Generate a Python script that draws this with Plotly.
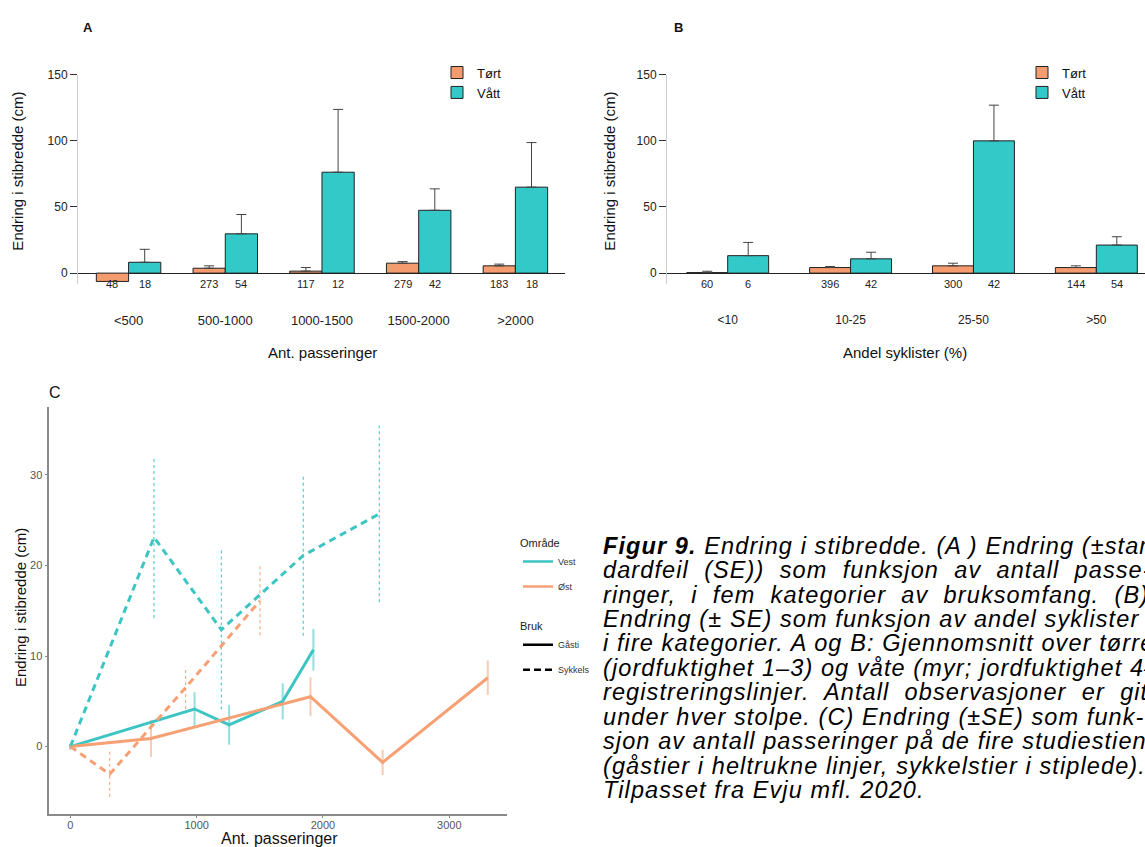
import plotly.graph_objects as go

W, H = 1145, 847

# ---------------- Panel A: change vs. number of passes ----------------
passering_kat = ["<500", "500-1000", "1000-1500", "1500-2000", ">2000"]
a_tort = [-6.3, 3.7, 1.5, 7.5, 5.5]
a_tort_se = [None, 1.8, 2.7, 1.2, 1.3]
a_vatt = [8.2, 29.7, 76.3, 47.5, 65.0]
a_vatt_se = [9.8, 14.6, 47.5, 16.2, 33.7]
a_n_tort = [48, 273, 117, 279, 183]
a_n_vatt = [18, 54, 12, 42, 18]

# ---------------- Panel B: change vs. share of cyclists ----------------
syklist_kat = ["<10", "10-25", "25-50", ">50"]
b_tort = [0.4, 4.2, 5.5, 4.2]
b_tort_se = [1.0, 0.8, 2.0, 1.3]
b_vatt = [13.2, 10.8, 100.0, 21.2]
b_vatt_se = [10.0, 5.0, 27.0, 6.3]
b_n_tort = [60, 396, 300, 144]
b_n_vatt = [6, 42, 42, 54]

# ---------------- Panel C: change vs. passes per study trail ----------------
vest_gasti_x = [0, 983, 1257, 1681, 1924]
vest_gasti_y = [0, 4.15, 2.4, 5.0, 10.7]
vest_gasti_se = [0.3, 1.85, 2.2, 2.0, 2.3]

ost_gasti_x = [0, 638, 1901, 2472, 3305]
ost_gasti_y = [0, 0.9, 5.5, -1.75, 7.6]
ost_gasti_se = [0.3, 2.05, 2.15, 1.4, 1.9]

vest_sykkel_x = [0, 662, 1195, 1844, 2446]
vest_sykkel_y = [0, 23.1, 12.9, 21.1, 25.7]
vest_sykkel_se = [0.3, 8.9, 8.8, 8.85, 9.75]

ost_sykkel_x = [0, 311, 912, 1501]
ost_sykkel_y = [0, -3.05, 6.5, 16.1]
ost_sykkel_se = [0.3, 2.5, 2.35, 3.8]

NB = "\u00a0"
caption_lines = [
    "<b>Figur 9.</b> Endring i stibredde. (A ) Endring (±standard-",
    ("dardfeil (SE)) som funksjon av antall passe-").replace(" ", NB + " "),
    ("ringer, i fem kategorier av bruksomfang. (B)").replace(" ", NB + " "),
    "Endring (± SE) som funksjon av andel syklister",
    "i fire kategorier. A og B: Gjennomsnitt over tørre",
    "(jordfuktighet 1–3) og våte (myr; jordfuktighet 4–5)",
    ("registreringslinjer. Antall observasjoner er gitt").replace(" ", NB + " "),
    "under hver stolpe. (C) Endring (±SE) som funk-",
    "sjon av antall passeringer på de fire studiestiene",
    "(gåstier i heltrukne linjer, sykkelstier i stiplede).",
    "Tilpasset fra Evju mfl. 2020.",
]

ORANGE = "#F59B70"
TEAL = "#33C9C9"
C_TEAL = "#3CC5C2"
C_ORANGE = "#F6A074"
FONT = "Liberation Sans, Arial, sans-serif"


def px_x(p):
    return p / W


def px_y(p):
    return 1 - p / H


fig = go.Figure()

# ---- bars A ----
ia = list(range(len(passering_kat)))
fig.add_trace(go.Bar(
    x=ia, y=a_tort, name="Tørt", marker=dict(color=ORANGE, line=dict(color="#222", width=1)),
    error_y=dict(type="data", array=a_tort_se, arrayminus=[0] * len(ia), symmetric=False,
                 color="#444", thickness=1, width=5),
    xaxis="x", yaxis="y", legend="legend",
))
fig.add_trace(go.Bar(
    x=ia, y=a_vatt, name="Vått", marker=dict(color=TEAL, line=dict(color="#222", width=1)),
    error_y=dict(type="data", array=a_vatt_se, arrayminus=[0] * len(ia), symmetric=False,
                 color="#444", thickness=1, width=5),
    xaxis="x", yaxis="y", legend="legend",
))

# ---- bars B ----
ib = list(range(len(syklist_kat)))
fig.add_trace(go.Bar(
    x=ib, y=b_tort, name="Tørt", marker=dict(color=ORANGE, line=dict(color="#222", width=1)),
    error_y=dict(type="data", array=b_tort_se, arrayminus=[0] * len(ib), symmetric=False,
                 color="#444", thickness=1, width=5),
    xaxis="x2", yaxis="y2", legend="legend2",
))
fig.add_trace(go.Bar(
    x=ib, y=b_vatt, name="Vått", marker=dict(color=TEAL, line=dict(color="#222", width=1)),
    error_y=dict(type="data", array=b_vatt_se, arrayminus=[0] * len(ib), symmetric=False,
                 color="#444", thickness=1, width=5),
    xaxis="x2", yaxis="y2", legend="legend2",
))


# ---- panel C: error bars then lines ----
def err_segments(xs, ys, ses):
    ex, ey = [], []
    for x, y, s in zip(xs, ys, ses):
        ex += [x, x, None]
        ey += [y - s, y + s, None]
    return ex, ey


series_c = [
    (vest_gasti_x, vest_gasti_y, vest_gasti_se, C_TEAL, "solid"),
    (ost_gasti_x, ost_gasti_y, ost_gasti_se, C_ORANGE, "solid"),
    (vest_sykkel_x, vest_sykkel_y, vest_sykkel_se, C_TEAL, "dash"),
    (ost_sykkel_x, ost_sykkel_y, ost_sykkel_se, C_ORANGE, "dash"),
]
for xs, ys, ses, col, dash in series_c:
    ex, ey = err_segments(xs, ys, ses)
    if dash == "solid":
        eline = dict(color=col, width=2)
        op = 0.55
    else:
        eline = dict(color=col, width=1.2, dash="dot")
        op = 0.85
    fig.add_trace(go.Scatter(x=ex, y=ey, mode="lines", line=eline, opacity=op,
                             showlegend=False, xaxis="x3", yaxis="y3", hoverinfo="skip"))
for xs, ys, ses, col, dash in series_c:
    fig.add_trace(go.Scatter(x=xs, y=ys, mode="lines",
                             line=dict(color=col, width=3, dash="solid" if dash == "solid" else "7px,5px"),
                             showlegend=False, xaxis="x3", yaxis="y3"))

# legend entries for panel C
fig.add_trace(go.Scatter(x=[None], y=[None], mode="lines", name="Vest", line=dict(color=C_TEAL, width=2.5),
                         xaxis="x3", yaxis="y3", legend="legend3", legendgroup="vest"))
fig.add_trace(go.Scatter(x=[None], y=[None], mode="lines", name="Øst", line=dict(color=C_ORANGE, width=2.5),
                         xaxis="x3", yaxis="y3", legend="legend3", legendgroup="ost"))
fig.add_trace(go.Scatter(x=[None], y=[None], mode="lines", name="Gåsti", line=dict(color="#000", width=2.5),
                         xaxis="x3", yaxis="y3", legend="legend4", legendgroup="gasti"))
fig.add_trace(go.Scatter(x=[None], y=[None], mode="lines", name="Sykkels",
                         line=dict(color="#000", width=2.5, dash="7px,4px"),
                         xaxis="x3", yaxis="y3", legend="legend4", legendgroup="sykkel"))

annotations = []

# n-labels under each bar
for i, (nt, nv) in enumerate(zip(a_n_tort, a_n_vatt)):
    for off, n in ((-1 / 6, nt), (1 / 6, nv)):
        annotations.append(dict(x=i + off, y=0, xref="x", yref="y", text=str(n), showarrow=False,
                                xanchor="center", yanchor="top", yshift=-3,
                                font=dict(size=11, color="#222")))
for i, (nt, nv) in enumerate(zip(b_n_tort, b_n_vatt)):
    for off, n in ((-1 / 6, nt), (1 / 6, nv)):
        annotations.append(dict(x=i + off, y=0, xref="x2", yref="y2", text=str(n), showarrow=False,
                                xanchor="center", yanchor="top", yshift=-3,
                                font=dict(size=11, color="#222")))


def label(xp, yp, text, size, angle=0, color="#111"):
    return dict(x=px_x(xp), y=px_y(yp), xref="paper", yref="paper", text=text, showarrow=False,
                xanchor="center", yanchor="middle", textangle=angle,
                font=dict(size=size, color=color))


# axis titles and panel letters
annotations += [
    label(88, 21, "<b>A</b>", 13),
    label(678, 21, "<b>B</b>", 13),
    label(55, 389, "C", 16),
    label(322, 348, "Ant. passeringer", 15),
    label(905, 348, "Andel syklister (%)", 15),
    label(18, 166, "Endring i stibredde (cm)", 15, -90),
    label(610, 166, "Endring i stibredde (cm)", 15, -90),
    label(279, 838, "Ant. passeringer", 16),
    label(21, 606, "Endring i stibredde (cm)", 15, -90),
]

# figure caption (italic, slightly widened tracking)
cap_y0, cap_dy = 543, 24.7
for k, line in enumerate(caption_lines):
    annotations.append(dict(x=px_x(601), y=px_y(cap_y0 + k * cap_dy), xref="paper", yref="paper",
                            xanchor="left", yanchor="middle",
                            text='<span style="letter-spacing:1.1px"><i>' + line + "</i></span>",
                            showarrow=False,
                            font=dict(size=23.5, color="#000", family="Liberation Sans, Arial, sans-serif")))

bar_y = dict(range=[-8, 150], tickvals=[0, 50, 100, 150], showline=True, linecolor="#cfcfcf",
             linewidth=1, ticks="outside", ticklen=7, tickcolor="#333", showgrid=False,
             zeroline=True, zerolinecolor="#222", zerolinewidth=1.2,
             tickfont=dict(size=12, color="#222"), fixedrange=True)

fig.update_layout(
    width=W, height=H, margin=dict(l=0, r=0, t=0, b=0),
    paper_bgcolor="white", plot_bgcolor="white",
    font=dict(family=FONT, color="#222"),
    barmode="group", bargap=1 / 3, bargroupgap=0,
    xaxis=dict(domain=[px_x(78), px_x(565)], range=[-0.523, 4.513], tickvals=ia, ticktext=passering_kat,
               showline=False, showgrid=False, zeroline=False, ticks="", ticklabelstandoff=27,
               tickfont=dict(size=13, color="#222"), anchor="y"),
    yaxis=dict(domain=[px_y(279), px_y(68.3)], anchor="x", **bar_y),
    xaxis2=dict(domain=[px_x(667), 1.0], range=[-0.494, 3.396], tickvals=ib, ticktext=syklist_kat,
                showline=False, showgrid=False, zeroline=False, ticks="", ticklabelstandoff=27,
                tickfont=dict(size=12, color="#222"), anchor="y2"),
    yaxis2=dict(domain=[px_y(279), px_y(68.3)], anchor="x2", **bar_y),
    xaxis3=dict(domain=[px_x(49.3), px_x(507)], range=[-167, 3457], tickvals=[0, 1000, 2000, 3000],
                showline=True, linecolor="#8a8a8a", linewidth=1.5, ticks="outside", ticklen=3,
                tickcolor="#8a8a8a", showgrid=False, zeroline=False, ticklabelstandoff=-3,
                tickfont=dict(size=11, color="#555"), anchor="y3"),
    yaxis3=dict(domain=[px_y(813.3), px_y(403.3)], range=[-7.4, 37.5], tickvals=[0, 10, 20, 30],
                showline=True, linecolor="#8a8a8a", linewidth=1.5, ticks="outside", ticklen=3,
                tickcolor="#8a8a8a", showgrid=False, zeroline=False,
                tickfont=dict(size=11, color="#555"), anchor="x3"),
    legend=dict(x=px_x(437), y=px_y(51), xanchor="left", yanchor="top", bgcolor="rgba(0,0,0,0)",
                font=dict(size=13, color="#111")),
    legend2=dict(x=px_x(1022), y=px_y(51), xanchor="left", yanchor="top", bgcolor="rgba(0,0,0,0)",
                 font=dict(size=13, color="#111")),
    legend3=dict(x=px_x(518), y=px_y(530), xanchor="left", yanchor="top", bgcolor="rgba(0,0,0,0)",
                 title=dict(text="Område", font=dict(size=11, color="#222")),
                 font=dict(size=9, color="#333"), traceorder="grouped", tracegroupgap=6),
    legend4=dict(x=px_x(518), y=px_y(614), xanchor="left", yanchor="top", bgcolor="rgba(0,0,0,0)",
                 title=dict(text="Bruk", font=dict(size=11, color="#222")),
                 font=dict(size=9, color="#333"), traceorder="grouped", tracegroupgap=6),
    annotations=annotations,
    showlegend=True,
)

fig.write_html("out.html")
